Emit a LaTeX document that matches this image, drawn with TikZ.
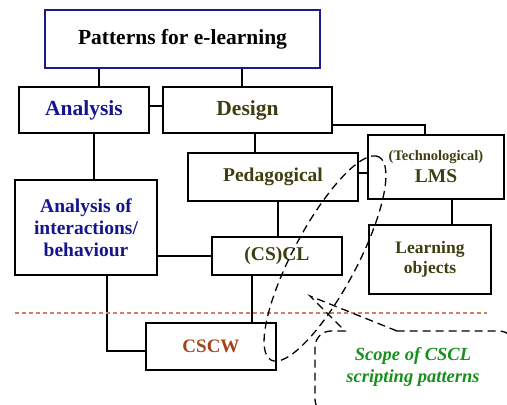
\documentclass[tikz,border=0pt]{standalone}
\usepackage{fontspec}
\setmainfont{Liberation Serif}
\usetikzlibrary{calc}
\definecolor{cBlue}{HTML}{1A1A8A}
\definecolor{cNavy}{HTML}{16168C}
\definecolor{cOlive}{HTML}{3E3E10}
\definecolor{cRust}{HTML}{A4441C}
\definecolor{cGreen}{HTML}{17901B}
\definecolor{cSep}{HTML}{D0805E}
\tikzset{
  box/.style={draw, line width=1.3pt, align=center, inner sep=0pt,
    font=\bfseries\fontsize{19.5}{22}\selectfont},
  ana/.style={box, text=cNavy},
  des/.style={box, text=cOlive},
  link/.style={line width=1.3pt},
  scope/.style={line width=1.3pt, dash pattern=on 8pt off 5pt},
  sep/.style={draw=cSep, line width=1.1pt, dash pattern=on 4pt off 3pt},
}

\begin{document}
\begin{tikzpicture}[x=1pt, y=-1pt]
  \useasboundingbox (0,0) rectangle (507,405);
  % boxes
  \node[box, draw=cBlue, font=\bfseries\fontsize{21.5}{24}\selectfont,
    minimum width=275, minimum height=58] (patterns) at (182.5,39) {Patterns for e-learning};
  \node[ana, font=\bfseries\fontsize{21.5}{24}\selectfont,
    minimum width=130, minimum height=46] (analysis) at (84,110) {Analysis};
  \node[des, font=\bfseries\fontsize{21.5}{24}\selectfont,
    minimum width=169, minimum height=46] (design) at (247.5,110) {Design};
  \node[ana, minimum width=142, minimum height=95] (interact) at (86,227.5)
    {Analysis of\\interactions/\\behaviour};
  \node[des, minimum width=170, minimum height=48] (peda) at (273,177) {Pedagogical};
  \node[des, minimum width=136, minimum height=64] (lms) at (436,167)
    {{\fontsize{14.5}{16}\selectfont (Technological)}\\LMS};
  \node[des, minimum width=130, minimum height=38] (cscl) at (277,256) {(CS)CL};
  \node[des, font=\bfseries\fontsize{17.5}{20}\selectfont,
    minimum width=122, minimum height=69] (lobj) at (430,259.5) {Learning\\objects};
  \node[box, text=cRust, font=\bfseries\fontsize{19}{22}\selectfont,
    minimum width=130, minimum height=47] (cscw) at (211,346.5) {CSCW};
  % tree links
  \draw[link] ([xshift=15pt]analysis.north) -- ([xshift=15pt]analysis.north |- patterns.south);
  \draw[link] ([xshift=-5.5pt]design.north) -- ([xshift=-5.5pt]design.north |- patterns.south);
  \draw[link] ([yshift=4pt]analysis.east) -- ([yshift=4pt]analysis.east -| design.west);
  \draw[link] ([yshift=-15pt]design.east) -| ([xshift=-11pt]lms.north);
  \draw[link] ([xshift=10pt]analysis.south) -- ([xshift=10pt]analysis.south |- interact.north);
  \draw[link] ([xshift=7.5pt]design.south) -- ([xshift=7.5pt]design.south |- peda.north);
  \draw[link] ([yshift=4pt]peda.east) -- ([yshift=4pt]peda.east -| lms.west);
  \draw[link] ([xshift=5pt]peda.south) -- ([xshift=5pt]peda.south |- cscl.north);
  \draw[link] ([xshift=16pt]lms.south) -- ([xshift=16pt]lms.south |- lobj.north);
  \draw[link] (cscl.west) -- (cscl.west -| interact.east);
  \draw[link] ([xshift=21pt]interact.south) |- ([yshift=-4.5pt]cscw.west);
  \draw[link] ([xshift=-25pt]cscl.south) -- ([xshift=-25pt]cscl.south |- cscw.north);
  % separator
  \coordinate (sepL) at (15,313);
  \coordinate (sepR) at (487,313);
  \draw[sep] (sepL) -- (sepR);
  % scope loop and its callout
  \coordinate (loopC) at (325,258.5);
  \draw[scope, rotate around={62:(loopC)}] (loopC) ellipse (115pt and 32pt);
  \coordinate (tip) at (310,296);
  \draw[scope] (397,331) -- (tip) -- (345,331) [rounded corners=16pt]
    -- (315,331) -- (315,415) -- (515,415) -- (515,331) -- (397,331);
  \node[text=cGreen, align=center, font=\bfseries\itshape\fontsize{18.5}{22}\selectfont]
    (scopetxt) at (413,367) {Scope of CSCL\\scripting patterns};
\end{tikzpicture}
\end{document}
